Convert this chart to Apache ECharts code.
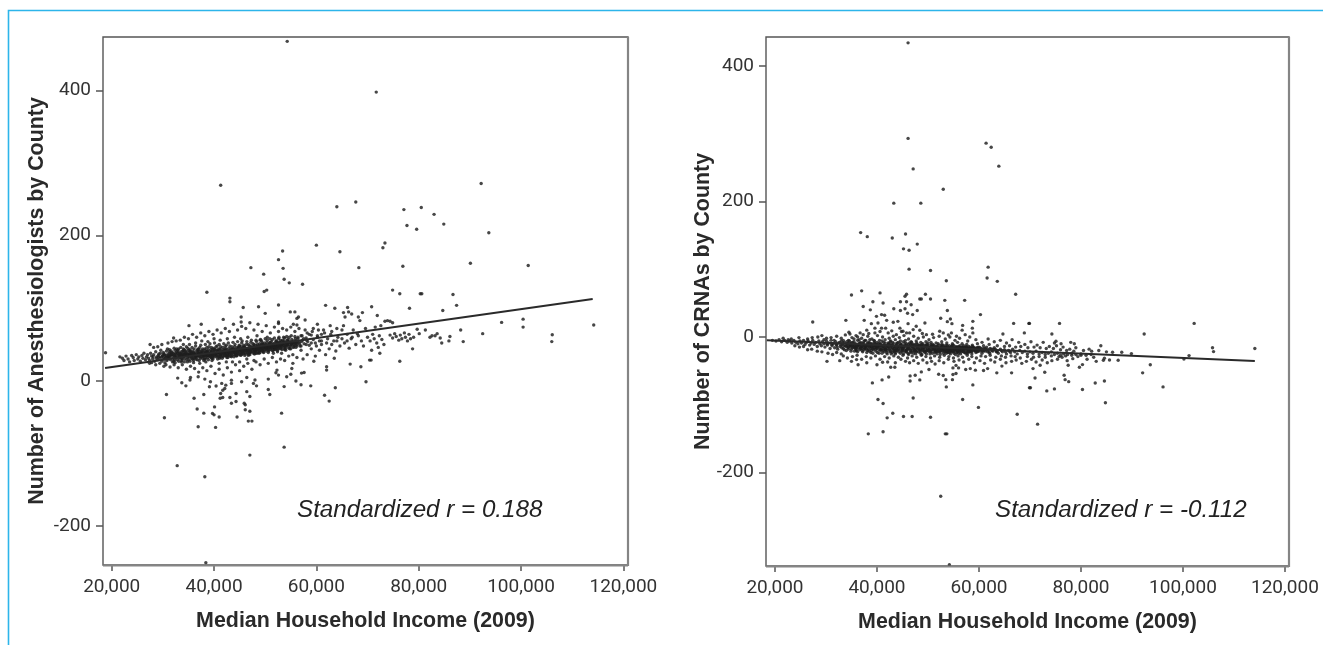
<!DOCTYPE html>
<html><head><meta charset="utf-8">
<script src="https://cdn.jsdelivr.net/npm/echarts@6/dist/echarts.min.js"></script>
<style>html,body{margin:0;padding:0;background:#fff}#c{width:1323px;height:645px}</style>
</head><body><div id="c"></div>
<script>
const xTicks=[20000,40000,60000,80000,100000,120000];
const anesYTicks=[-200,0,200,400];
const crnaYTicks=[-200,0,200,400];
const xTitle='Median Household Income (2009)';
const anesTitle='Number of Anesthesiologists by County';
const crnaTitle='Number of CRNAs by County';
const anesNote='Standardized r = 0.188';
const crnaNote='Standardized r = -0.112';
// regression end points: income (thousands), count
const anesFit=[[18.7,17.6],[114,112.8]];
const crnaFit=[[18.4,-5],[114.1,-35.4]];
// income in thousands, count
const anesOutliers=[[54.3,468],[41.3,269.5],[64,240],[67.7,246.5],[60,187],[53.4,179],[64.6,178],[52.6,167],[47.2,156],[53.5,155],[68.3,156],[49.7,147],[53.7,140],[54.7,135],[57.3,133],[38.6,122],[50.3,125],[49.8,123],[43.1,114],[71.7,398],[92.2,272],[77.1,236],[80.5,239],[83,229.5],[77.7,214],[79.6,209],[84.9,216],[93.7,204],[73.4,190],[73,183.5],[76.9,158],[90.1,162],[101.4,159],[74.9,125],[76.3,120],[80.3,120],[80.6,120],[86.7,119],[78.2,100],[84.7,97],[87.4,104],[70.8,102],[71.9,90],[96.2,80.5],[100.4,85],[100.4,74],[114.2,77],[106.1,63.5],[106,54],[92.5,65],[88.2,70],[88.7,54],[86.1,61],[85.9,55],[84.5,52],[78.8,44],[76.3,27],[72.4,38],[72.1,46],[70.8,42],[70.7,28.5],[38.4,-251],[38.2,-132.4],[32.8,-117],[47,-102.5],[53.7,-91.5],[30.3,-51],[36.9,-63.4],[40.3,-64.3],[46.7,-55.6],[47.4,-55.6],[44.5,-50],[41,-50],[39.7,-45],[40,-47],[38,-44.6],[36.7,-39],[40.1,-36],[46.1,-40],[47,-42],[53.2,-44.6],[46.1,-33],[45.9,-31],[43.4,-31],[44.3,-28.5],[43.1,-23],[44.3,-17.5],[41.2,-24],[41.7,-23],[36.1,-24],[38,-19],[30.7,-19],[47,-21.6],[46.4,-15],[50.6,-12],[50.9,-19],[53.7,-8],[61.6,-20],[62.5,-28],[63.7,-9.6],[69.7,-1.4],[58.9,-7],[57,-5.5],[56,-0.4],[57.6,11.5],[57.1,10.6],[62,19.3],[62,14.7],[66.6,23],[68.7,19.3],[70.4,28.5],[63.5,31],[59.5,27],[18.8,38.6]];
const anesScatter=[[54.2,5.5],[55,9],[55.4,24],[55.2,17],[52.3,14.7],[52.6,7.8],[52.1,11],[50.6,2.3],[48,1],[47.7,-3.6],[48.3,-7],[46.4,4.6],[45.4,-1.4],[43.4,-3.6],[43.4,.9],[41.5,-3.6],[42.3,-6],[41.7,-13],[40.4,-7.3],[39.3,-1.4],[39.1,-8.2],[42.1,-10.6],[41.3,-17.5],[38.2,2.3],[36.9,5.5],[35.3,1],[35.4,4.6],[34.5,-7],[33.7,-2.7],[32.9,3.7],[43.1,109],[45.7,101],[48.7,102],[52.6,104.4],[61.8,104],[63.6,100],[66.1,101],[54.9,95],[55.8,95],[50,93],[45.3,88],[45.3,81],[41.8,84.6],[35.1,76],[37.5,78],[52.6,81],[52.6,79],[56.2,86],[56.5,88],[55.5,78],[56.2,77],[57.8,83.7],[60.2,78],[62.7,76],[65.3,76],[65.6,88],[65.3,94],[66.3,95],[66.9,92],[68.2,88],[69,94],[68.5,83],[32.1,59],[27.5,50],[73.4,82],[73.9,83],[74.4,82],[74.9,80],[72.6,76],[71.5,74],[74.4,63],[74.9,59],[75.3,65],[75.6,61],[76.1,56],[76.4,63],[76.7,58],[77.2,66],[77.4,60],[77.8,55],[78.1,64],[78.4,58],[79,60],[79.7,71],[80.1,65],[81.3,70],[82.2,60],[82.6,62],[83.2,62],[83.6,65],[84.2,59],
[70,60],[70.5,55],[71,64],[71.3,58],[71.8,52],[72.3,62],[72.8,57],[73.2,50],[69.2,48],[69.6,72],[68.8,55],[68.2,62],[67.7,50],[67.2,70],[66.8,58],[66.4,45],[66,64],[65.5,52],[65,70],[64.6,48],[64.2,60],[63.8,41],[63.4,55],[63,68],[62.5,44],[62.2,58],[61.8,36],[61.4,70],[61,50],[60.6,42],[60.2,62],[59.8,34],[59.4,72],[59,44],[58.6,64],[58.2,36],[57.8,70],[57.4,30],[57,42],[56.6,72],[56.2,32],[55.8,68],[55.4,36],[55,74],[54.6,34],[54.2,70],[53.8,28],[53.4,72],[53,30],[52.6,68],[52.2,26],[51.8,74],[51.4,32],[51,66],[50.6,24],[50.2,76],[49.8,30],[49.4,68],[49,22],[48.6,78],[48.2,26],[47.8,70],[47.4,16],[47,80],[46.6,24],[46.2,72],[45.8,20],[45.4,75],[45,14],[44.6,70],[44.2,22],[43.8,78],[43.4,12],[43,68],[42.6,18],[42.2,72],[41.8,8],[41.4,66],[41,16],[40.6,70],[40.2,10],[39.8,64],[39.4,20],[39,68],[38.6,14],[38.2,62],[37.8,18],[37.4,66],[37,12],[36.6,60],[36.2,17],[35.8,64],[35.4,20],[35,58],[34.6,16],[34.2,60],[33.8,22],[33.4,56],[33,18],[32.6,55],[32.2,22],[31.8,54],[31.4,19],[31,52],[30.6,22],[30.2,20],[29.8,50],[29.4,24],[29,47],[28.6,22],[28.2,46],[27.8,25],[27.4,24],[49,56],[50.4,60],[48.4,62],[46.6,60],[45.2,58],[44,60],[42.6,58],[41.2,56],[40,58],[38.8,54],[37.6,55],[36.4,52],[35.2,50],[34,50],[47.8,28],[46.4,30],[45,26],[43.6,26],[42.4,26],[41,24],[39.6,28],[38.4,26],[37.2,24],[36,25],[34.8,26],[33.6,26],[32.4,25],[51.6,38],[52.4,40],[53.2,38],[54,42],[55,44],[56,46],[57,48],[58,50],[59,52],[60,48],[61,55],[62,52],[63,50],[64,55],[65,58],[66,55],[67,60],[68,65],[56.4,60],[57.2,62],[58.2,66],[59.2,68],[60.4,70],[61.6,66],[62.8,64],[64,72]];
const anesCore=[[21.6,33],[22.1,31],[22.4,28],[22.8,34],[23.2,30],[23.5,26],[23.9,35],[24.2,32],[24.4,28],[24.8,36],[25.1,30],[25.3,33],[25.6,27],[25.9,35],[26.1,31],[26.3,38],[26.6,29],[26.8,33],[27,36],[27.2,31],[27.4,28],[27.6,38],[27.8,34],[28,30],[28.2,36],[28.4,27],[28.6,40],[28.8,33],[29,29],[29.2,37],[29.4,31],[29.6,42],[29.8,27],[30,35],[30.1,39],[30.3,30],[30.5,33],[30.7,41],[30.8,28],[31,37],[31.1,32],[31.3,43],[31.5,29],[31.6,35],[31.8,39],[32,31],[32.1,27],[32.3,36],[32.4,42],[32.6,33],[32.8,29],[32.9,38],[33.1,44],[33.2,31],[33.4,35],[33.6,40],[33.7,28],[33.9,33],[34,37],[34.2,43],[34.3,30],[34.5,35],[34.6,39],[34.8,32],[34.9,45],[35.1,29],[35.2,37],[35.4,41],[35.5,33],[35.7,35],[35.8,30],[36,39],[36.1,44],[36.3,32],[36.4,36],[36.6,41],[36.7,29],[36.9,34],[37,38],[37.2,46],[37.3,31],[37.5,36],[37.6,42],[37.8,33],[37.9,39],[38.1,30],[38.2,44],[38.4,35],[38.5,37],[38.7,41],[38.8,32],[39,47],[39.1,34],[39.3,38],[39.4,43],[39.6,31],[39.7,36],[39.9,40],[40,45],[40.2,33],[40.3,37],[40.5,42],[40.6,48],[40.8,34],[40.9,39],[41.1,31],[41.2,44],[41.4,36],[41.5,41],[41.7,46],[41.8,33],[42,38],[42.1,43],[42.3,35],[42.4,49],[42.6,40],[42.7,32],[42.9,45],[43,37],[43.2,42],[43.3,34],[43.5,47],[43.6,39],[43.8,44],[43.9,36],[44.1,50],[44.2,41],[44.4,34],[44.5,46],[44.7,38],[44.8,43],[45,48],[45.1,36],[45.3,41],[45.4,52],[45.6,44],[45.7,38],[45.9,47],[46,35],[46.2,42],[46.3,50],[46.5,39],[46.6,45],[46.8,37],[46.9,48],[47.1,43],[47.2,53],[47.4,40],[47.5,46],[47.7,38],[47.8,50],[48,44],[48.1,41],[48.3,54],[48.4,47],[48.6,39],[48.7,45],[48.9,51],[49,42],[49.2,48],[49.3,55],[49.5,44],[49.6,40],[49.8,52],[49.9,46],[50.1,43],[50.2,50],[50.4,56],[50.5,45],[50.7,41],[50.8,48],[51,53],[51.1,44],[51.3,50],[51.4,57],[51.6,46],[51.7,43],[51.9,52],[52,48],[52.2,55],[52.3,45],[52.5,50],[52.6,58],[52.8,47],[52.9,53],[53.1,44],[53.2,49],[53.4,56],[53.5,51],[53.7,46],[53.8,59],[54,53],[54.1,48],[54.3,56],[54.4,50],[54.6,45],[54.7,60],[54.9,54],[55,49],[55.2,57],[55.4,52],[55.6,47],[55.8,61],[56,55],[56.2,50],[56.4,58],[56.6,53],[56.8,48],[57,62],[57.3,56],[57.6,51],[58,59],[58.3,54],[58.6,49],[59,63],[59.4,57],[59.8,52],[60.2,60],[60.6,55],[61,64],
[28.1,33],[28.7,31],[29.1,35],[29.7,33],[30.2,37],[30.6,35],[31.2,33],[31.7,36],[32.2,34],[32.5,38],[33,35],[33.3,33],[33.5,37],[33.8,35],[34.1,33],[34.4,38],[34.7,36],[35,34],[35.3,36],[35.6,38],[35.9,34],[36.2,37],[36.5,34],[36.8,39],[37.1,35],[37.4,38],[37.7,36],[38,34],[38.3,39],[38.6,37],[38.9,35],[39.2,40],[39.5,37],[39.8,34],[40.1,39],[40.4,36],[40.7,41],[41,38],[41.3,35],[41.6,40],[41.9,37],[42.2,41],[42.5,38],[42.8,35],[43.1,40],[43.4,37],[43.7,41],[44,39],[44.3,43],[44.6,40],[44.9,37],[45.2,43],[45.5,40],[45.8,42],[46.1,39],[46.4,44],[46.7,41],[47,39],[47.3,45],[47.6,42],[47.9,40],[48.2,46],[48.5,43],[48.8,48],[49.1,45],[49.4,42],[49.7,47],[50,49],[50.3,46],[50.6,43],[50.9,50],[51.2,47],[51.5,49],[51.8,45],[52.1,50],[52.4,47],[52.7,52],[53,49],[53.3,47],[53.6,53],[53.9,50],[54.2,52],[54.5,48],[54.8,53],[55.1,51],[55.5,55],[55.9,52],[56.3,54],[56.7,51],[57.1,54],[57.5,58],[58.1,56],[33.2,37],[34.3,36],[35.1,33],[35.7,38],[36.3,35],[36.9,37],[37.5,34],[38.1,37],[38.7,35],[39.3,36],[39.9,38],[40.5,38],[41.1,36],[41.7,39],[42.3,37],[42.9,39],[43.5,41],[44.1,38],[44.7,42],[45.3,39],[45.9,41],[46.5,43],[47.1,41],[47.7,44],[48.3,42],[48.9,44],[49.5,46],[50.1,45],[50.7,47],[51.3,46],[51.9,48],[52.5,49]];
const anesDense=[[30.4,25],[30.9,44],[31.4,38],[31.9,26],[32.2,45],[32.7,40],[33.1,27],[33.5,46],[33.9,41],[34.2,26],[34.6,47],[35,42],[35.3,27],[35.7,46],[36,28],[36.4,48],[36.8,43],[37.1,28],[37.4,49],[37.8,44],[38,28],[38.3,50],[38.6,46],[38.9,29],[39.2,51],[39.5,46],[39.8,30],[40.1,52],[40.4,47],[40.7,30],[41,50],[41.3,47],[41.6,31],[41.9,51],[42.2,47],[42.5,32],[42.8,52],[43.1,48],[43.4,33],[43.7,53],[44,47],[44.3,36],[44.6,54],[44.9,49],[45.2,35],[45.5,55],[45.8,49],[46.1,37],[46.4,54],[46.7,50],[47,36],[47.3,56],[47.6,51],[47.9,37],[48.2,56],[48.5,50],[48.8,38],[49.1,57],[49.4,52],[49.7,39],[50,58],[50.3,53],[50.6,39],[50.9,58],[51.2,54],[51.5,41],[51.8,59],[52.1,55],[52.4,42],[52.7,60],[53,56],[53.3,43],[53.6,60],[53.9,44],[54.2,61],[54.5,57],[54.8,44],[55.1,62],[55.5,46],[55.9,58],
[31,34],[31.5,36],[32,38],[32.5,32],[33,40],[33.4,38],[33.8,30],[34.1,39],[34.5,41],[34.9,36],[35.2,40],[35.6,31],[36,36],[36.3,38],[36.6,33],[36.9,41],[37.2,33],[37.5,39],[37.8,41],[38.1,35],[38.4,32],[38.7,39],[39,36],[39.3,33],[39.6,41],[39.9,35],[40.2,43],[40.5,35],[40.8,41],[41.1,43],[41.4,38],[41.7,34],[42,41],[42.3,44],[42.6,36],[42.9,41],[43.2,38],[43.5,35],[43.8,40],[44.1,43],[44.4,37],[44.7,45],[45,40],[45.3,44],[45.6,38],[45.9,43],[46.2,45],[46.5,41],[46.8,43],[47.1,39],[47.4,45],[47.7,47],[48,42],[48.3,45],[48.6,48],[48.9,41],[49.2,46],[49.5,49],[49.8,43],[50.1,47],[50.4,44],[50.7,50],[51,46],[51.3,48],[51.6,51],[51.9,44],[52.2,47],[52.5,53],[52.8,50],[53.1,47],[53.4,51],[53.7,49],[54,46],[54.3,50],[54.6,53],[54.9,47],[55.2,50],[55.5,53],[55.8,49],[56.1,52],
[29.2,33],[29.5,38],[29.9,34],[30.3,36],[30.7,32],[31.1,35],[31.4,32],[31.8,37],[32.1,35],[32.6,36],[33.2,34],[33.7,36],[34.2,35],[34.8,37],[35.4,35],[35.9,37],[36.4,34],[37,36],[37.6,37],[38.2,36],[38.8,38],[39.4,39],[40,37],[40.6,39],[41.2,39],[41.8,38],[42.4,40],[43,40],[43.6,42],[44.2,40],[44.8,41],[45.4,42],[46,43],[46.6,42],[47.2,44],[47.8,43],[48.4,44],[49,46],[49.6,45],[50.2,47],[50.8,46],[51.4,47],[52,46],[52.6,48],[53.2,51],[53.8,48],[54.4,51]];
const anesThick=[[30.1,31],[30.9,30],[31.6,41],[32.3,29],[32.9,42],[33.6,31],[34,44],[34.7,29],[35.3,43],[35.9,41],[36.5,30],[37,43],[37.7,31],[38.3,42],[38.9,43],[39.5,32],[40,43],[40.6,33],[41.2,33],[41.8,43],[42.4,34],[43,34],[43.6,44],[44.2,35],[44.8,46],[45.4,36],[46,46],[46.6,37],[47.2,48],[47.8,47],[48.4,38],[49,39],[49.6,50],[50.2,41],[50.8,52],[51.4,42],[52,43],[52.6,44],[53.2,54],[53.8,43],[54.4,55],[55,51],[55.6,50],[56.2,48],[31.3,40],[32.7,44],[34.1,42],[35.5,39],[36.9,44],[38.3,30],[39.7,44],[41.1,33],[42.5,43],[43.9,33],[45.3,47],[46.7,35],[48.1,49],[49.5,41],[50.9,43],[52.3,52],[53.7,55],[36.1,31],[37.3,40],[38.5,40],[39.7,33],[40.9,44],[42.1,35],[43.3,44],[44.5,35],[45.7,46],[46.9,40],[48.1,38],[49.3,50],[50.5,48],[51.7,49],[52.9,45]];
const crnaOutliers=[[46.1,434],[46.1,293],[61.4,286],[62.4,280],[63.9,252],[47.1,248],[53,218],[43.3,197.4],[48.6,197.4],[36.8,154],[38.1,148],[45.6,152],[43,146],[47.9,137],[45.2,130],[46.3,128],[46.3,100],[50.5,98],[61.8,103],[61.6,87],[63.6,82],[53.6,83],[37,68],[35,62],[40.6,65],[45.8,63],[45.5,60],[49.5,63],[67.2,63],[48.4,56],[48.7,56],[50.5,56],[53.3,54],[57.2,54],[39.2,52],[41.2,50],[37.3,45],[38.7,40],[44.6,52],[45.8,52],[46.7,47.6],[43.3,41.7],[44.6,39],[45.5,41.7],[47.9,39],[46,35],[47,33],[53.8,39],[52.5,27.5],[54.4,26.5],[53.8,22.6],[54.7,19.6],[60.3,33],[66.8,20],[69.8,20],[27.4,22],[33.9,24.5],[37.5,24.5],[39.9,30.4],[40.9,33],[41.5,32],[53.4,-143],[53.7,-143],[52.5,-235],[54.2,-336],[38.3,-143],[41.2,-140],[42,-119.4],[43.1,-112.5],[45.2,-117.4],[46.9,-117.4],[50.5,-118.4],[41.2,-98.3],[40.2,-92.4],[47.1,-90],[56.8,-92.4],[59.9,-104],[67.5,-114],[69.9,-75],[58.8,-70.8],[53.6,-73.7],[53.5,-63],[39.1,-67.8],[41,-63.4],[42.3,-59],[46.5,-57.5],[47.5,-56.5],[46.5,-65],[48.4,-63.4],[48.7,-51.6],[75.8,20],[102.2,20],[92.4,4.4],[74.3,4.4],[74.8,-9],[75.1,-6.4],[76.1,-10],[78,-8],[78.7,-10],[83.9,-13],[105.8,-16],[106,-21.6],[114.1,-17],[69.9,20],[93.6,-41],[92.1,-53],[96.1,-73.7],[84.8,-97],[84.6,-65],[82.8,-68],[80.3,-77.6],[77.6,-66],[76.9,-63],[76.7,-56.5],[74.8,-76.7],[73.3,-79.6],[70.1,-75],[71.5,-128.7],[71,-60.5],[72.9,-52],[70.6,-46.7],[72,-41.8],[77.5,-41.8],[79.7,-44.7],[80.3,-40.8],[87.3,-34.4],[84.4,-34.4],[84.6,-31.5],[82.5,-30],[80,-27],[100.2,-32.5],[101.2,-27.5],[89.9,-24.6],[88,-22.6],[86.2,-22.6],[83.5,-20],[82.1,-21]];
const crnaScatter=[[58.8,23],[56.8,17],[58.7,13],[56.7,10],[58.8,6],[57.3,3.4],[58.2,0],[68.9,6],[64.7,4.4],[41.9,24.5],[43.2,21.6],[44.1,23],[40.2,20.6],[38.9,19.6],[49.4,20.6],[47.7,15.7],[44.5,13],[46.1,19.6],[38,10],[39.6,13],[40.9,13],[41.7,13],[37.3,3.4],[39.6,6],[42.2,6],[34.5,7],[34.7,4.4],[45.1,8.3],[47.1,10.8],[48.4,9.8],[45.8,6],[43.8,3.4],[49.7,3.4],[52.3,8.3],[53,6],[54.6,6],[50.2,-48],[52.1,-55],[53,-57],[54.8,-63],[54.9,-55.5],[55.5,-54],[56,-45.7],[55.5,-42],[54.9,-45.7],[57.4,-48],[58.3,-46.7],[59.3,-49],[60.9,-49.6],[61.7,-46.7],[63.5,-53],[64.5,-43],[66.4,-53],[30.2,-36],[32.7,-35],[42.7,-44.7],[43.5,-44.7],[35,-36],[36,-33.4],[36.3,-41],[38,-38],[40,-41],[41.1,-37.4],
[36.2,0],[37,-2],[38.2,1],[39,-3],[40.1,2],[41.1,0],[42.4,-2],[43.2,1],[44.4,-1],[45.3,2],[46.2,-3],[47.2,1],[48.1,-2],[49.1,0],[50.2,-4],[51.1,-1],[52.2,1],[53.4,-3],[54.3,0],[55.3,-5],[56.2,-2],[57.8,-6],[59.4,-4],[60.6,-8],[61.8,-3],[63,-7],[64.2,-5],[65.4,-9],[66.5,-4],[67.8,-8],[69,-11],[70.2,-7],[71.4,-12],[72.6,-8],[73.8,-14],[75.2,-13],[76.5,-15],[77.8,-18],[79,-16],[80.5,-20],[81.6,-18],[85,-22],
[42.1,-37],[43.6,-38],[44.7,-33],[45.6,-36],[46.4,-38],[47.2,-35],[48.1,-39],[49,-34],[49.8,-38],[50.7,-36],[51.4,-40],[52.2,-35],[53.1,-38],[54,-33],[55.1,-36],[56.1,-34],[57,-37],[58,-33],[59.1,-38],[60.2,-35],[61.1,-39],[62.3,-34],[63.1,-37],[64.2,-33],[65.3,-38],[66.4,-36],[67.3,-34],[68.4,-39],[69.3,-36],[70.3,-33],[71.2,-37],[72.4,-34],[73.4,-38],[74.3,-35],[75.4,-33],[76.3,-30],[77.3,-35],[78.4,-32],[81.2,-33],[83,-36],[85.6,-34],[33.4,-28],[34.2,-31],[35.2,-29],[36.1,-27],[37,-33],[37.9,-29],[38.8,-31],[39.7,-28],[40.6,-33],[41.5,-29],[42.4,-31],[43.3,-28],[44.2,-30],[45.1,-27],[46,-31],[46.9,-28],[47.8,-30],[48.7,-27],[49.6,-29],[50.5,-31],[51.3,-28],[52.3,-30],[53.2,-27],[54.1,-29],[55,-31],[55.9,-28],[56.8,-30],[57.7,-27],[58.6,-29],[59.5,-31],[60.4,-28],[61.3,-29],[62.2,-27],[63.3,-30],[64.4,-28],[65.2,-30],[66.3,-28],[67.1,-29],[68.1,-31],[69.5,-29],[70.7,-30],[71.8,-29],[73,-30],[74.2,-28],[75.7,-29],[77,-28],[78.2,-27],[79.4,-29],[30.4,-24],[31.3,-26],[32.1,-23],[33,-25],[29.2,-22],[28.3,-21],[27.2,-18],[26.4,-19],[25.6,-14],[24.8,-15],[23.9,-13],
[28.4,0],[29.2,2],[30.1,-2],[31,-1],[32.1,1],[33,-2],[33.8,3],[35.1,-1],[35.9,2],[36.7,6],[38.4,5],[40.6,8],[42.9,9],[44.8,8],[46.4,6],[48.9,5],[50.9,4],[54,3],[55.6,1],[24.7,-1],[26.4,-3],[27.3,-1],[23.2,-3],[21.6,-2],[22.6,-4],[29.6,-4],[31.6,-5],[33.4,-5],[34.4,-5],[35.5,-3],[36.5,-4],[37.6,-5],[38.6,-4],[39.5,-6],[40.5,-5],[41.6,-4],[42.7,-6],[43.6,-4],[44.6,-6],[45.6,-5],[46.7,-7],[47.7,-6],[48.6,-8],[49.6,-7],[50.6,-8],[51.6,-9],[52.7,-7],[53.7,-9],[54.8,-10],[55.8,-8],[56.7,-10],[57.6,-11],[58.7,-12],[59.7,-10],[60.9,-13],[62,-11],[63.6,-13],[65,-14],[66,-13],[67.2,-15],[68.2,-14],[69.6,-16],[70.8,-15],[72,-16],[73.2,-17],[74.6,-17],[76,-19],[77.2,-20],[78.6,-21]];
const crnaCore=[[19.5,-5],[20.2,-6],[20.8,-4],[21.3,-7],[21.9,-5],[22.4,-8],[22.9,-6],[23.3,-9],[23.7,-5],[24.1,-8],[24.5,-10],[24.9,-6],[25.2,-9],[25.6,-5],[25.9,-11],[26.2,-8],[26.5,-6],[26.8,-12],[27.1,-9],[27.4,-5],[27.7,-11],[28,-8],[28.3,-14],[28.6,-6],[28.8,-10],[29.1,-13],[29.3,-7],[29.6,-10],[29.8,-15],[30.1,-6],[30.3,-12],[30.5,-9],[30.8,-17],[31,-5],[31.2,-13],[31.4,-10],[31.7,-16],[31.9,-7],[32.1,-12],[32.3,-18],[32.5,-9],[32.8,-14],[33,-6],[33.2,-11],[33.4,-17],[33.6,-8],[33.8,-13],[34,-20],[34.2,-10],[34.4,-15],[34.6,-6],[34.8,-12],[35,-18],[35.2,-8],[35.4,-14],[35.6,-21],[35.8,-10],[36,-16],[36.2,-5],[36.4,-12],[36.6,-19],[36.8,-8],[37,-14],[37.2,-22],[37.4,-10],[37.6,-17],[37.8,-5],[38,-12],[38.2,-20],[38.4,-8],[38.6,-15],[38.8,-23],[39,-10],[39.2,-17],[39.4,-5],[39.6,-13],[39.8,-21],[40,-8],[40.2,-15],[40.4,-24],[40.6,-11],[40.8,-18],[41,-6],[41.2,-14],[41.4,-22],[41.6,-9],[41.8,-16],[42,-25],[42.2,-11],[42.4,-19],[42.6,-7],[42.8,-14],[43,-23],[43.2,-10],[43.4,-17],[43.6,-25],[43.8,-12],[44,-20],[44.2,-8],[44.4,-15],[44.6,-24],[44.8,-11],[45,-18],[45.2,-7],[45.4,-14],[45.6,-22],[45.8,-10],[46,-17],[46.2,-26],[46.4,-13],[46.6,-20],[46.8,-8],[47,-15],[47.2,-24],[47.4,-11],[47.6,-18],[47.8,-9],[48,-14],[48.2,-22],[48.4,-12],[48.6,-19],[48.8,-26],[49,-10],[49.2,-16],[49.4,-23],[49.6,-12],[49.8,-20],[50,-9],[50.2,-15],[50.4,-25],[50.6,-13],[50.8,-19],[51,-11],[51.2,-17],[51.4,-23],[51.6,-14],[51.8,-20],[52,-10],[52.2,-16],[52.4,-26],[52.6,-13],[52.8,-18],[53,-12],[53.2,-21],[53.4,-15],[53.6,-24],[53.8,-13],[54,-19],[54.2,-16],[54.4,-25],[54.6,-14],[54.8,-21],[55,-12],[55.2,-18],[55.4,-26],[55.6,-15],[55.8,-22],[56,-14],[56.2,-19],[56.4,-25],[56.6,-16],[56.8,-21],[57,-13],[57.2,-18],[57.4,-24],[57.6,-16],[57.8,-20],[58,-14],[58.2,-22],[58.4,-17],[58.6,-25],[58.8,-15],[59,-20],[59.2,-18],[59.4,-23],[59.6,-16],[59.8,-21],[60,-15],[60.3,-19],[60.6,-24],[60.9,-17],[61.2,-21],[61.5,-15],[61.8,-19],[62.1,-24],[62.4,-18],[62.7,-21],[63,-16],[63.4,-20],[63.8,-24],[64.2,-18],[64.6,-22],[65,-19],[65.4,-25],[65.8,-20],[66.2,-23],[66.6,-18],[67,-22],[67.5,-25],[68,-20],[68.5,-23],[69,-21],[69.5,-25],[70,-22],[70.6,-24],[71.2,-21],[71.8,-25],[72.4,-23],[73,-26],[73.6,-24],[74.2,-22],[74.8,-26],[75.4,-24],[76,-27],[76.6,-25],[77.4,-26],[78.2,-24],[79,-26],[80,-25],[81,-27],[82,-26],
[30.2,-10],[31.1,-11],[32,-11],[32.9,-12],[33.5,-13],[34.1,-12],[34.7,-13],[35.3,-11],[35.9,-14],[36.3,-12],[36.9,-15],[37.3,-12],[37.9,-14],[38.3,-11],[38.9,-15],[39.3,-13],[39.9,-16],[40.3,-12],[40.9,-14],[41.3,-17],[41.9,-13],[42.3,-15],[42.9,-18],[43.3,-14],[43.9,-16],[44.3,-13],[44.9,-17],[45.3,-15],[45.9,-14],[46.3,-17],[46.9,-15],[47.3,-18],[47.9,-16],[48.3,-14],[48.9,-17],[49.3,-15],[49.9,-18],[50.3,-16],[50.9,-15],[51.3,-18],[51.9,-16],[52.3,-19],[52.9,-17],[53.3,-15],[53.9,-18],[54.3,-20],[54.9,-17],[55.3,-19],[55.9,-17],[56.3,-20],[56.9,-18],[57.3,-16],[57.9,-19],[58.3,-21],[58.9,-18],[59.3,-20],[59.9,-19],[60.4,-17],[60.8,-21],[61.4,-19],[62,-22],[62.6,-20],[63.2,-18],[63.6,-22],[64.4,-20],[65.2,-22],[66,-21],[34.6,-9],[35.7,-16],[36.7,-10],[37.7,-16],[38.7,-12],[39.7,-18],[40.7,-10],[41.7,-19],[42.7,-11],[43.7,-20],[44.7,-12],[45.7,-20],[46.7,-11],[47.7,-21],[48.7,-13],[49.7,-21],[50.7,-14],[51.7,-22],[52.7,-15],[53.7,-21],[54.7,-15],[55.7,-23],[56.7,-17],[57.7,-22],[58.7,-17],[59.7,-22]];
const crnaDense=[[32.2,-15],[32.7,-8],[33.1,-16],[33.6,-19],[34.1,-7],[34.4,-18],[34.9,-21],[35.2,-16],[35.5,-7],[35.9,-19],[36.2,-22],[36.5,-9],[36.8,-17],[37.1,-20],[37.4,-7],[37.7,-13],[38,-23],[38.3,-18],[38.6,-9],[38.9,-20],[39.2,-24],[39.5,-9],[39.8,-15],[40.1,-23],[40.4,-9],[40.7,-20],[41,-24],[41.3,-8],[41.6,-19],[41.9,-23],[42.2,-9],[42.5,-22],[42.8,-25],[43.1,-8],[43.4,-20],[43.7,-23],[44,-9],[44.3,-22],[44.6,-10],[44.9,-21],[45.2,-25],[45.5,-9],[45.8,-19],[46.1,-24],[46.4,-9],[46.7,-23],[47,-11],[47.3,-21],[47.6,-25],[47.9,-11],[48.2,-19],[48.5,-24],[48.8,-11],[49.1,-21],[49.4,-13],[49.7,-25],[50,-12],[50.3,-22],[50.6,-11],[50.9,-24],[51.2,-13],[51.5,-21],[51.8,-25],[52.1,-12],[52.4,-22],[52.7,-11],[53,-24],[53.3,-19],[53.6,-12],[53.9,-23],[54.2,-13],[54.5,-22],[54.8,-12],[55.1,-24],[55.4,-14],[55.7,-20],[56,-24],[56.3,-13],[56.6,-22],[56.9,-15],[57.2,-23],[57.5,-14],[57.8,-24],[58.1,-17],[58.4,-21],[58.7,-14],
[34,-14],[34.3,-16],[34.8,-14],[35.1,-13],[35.5,-15],[35.8,-17],[36.1,-13],[36.4,-16],[36.7,-14],[37,-17],[37.3,-15],[37.6,-13],[37.9,-18],[38.2,-15],[38.5,-13],[38.8,-17],[39.1,-14],[39.4,-16],[39.7,-12],[40,-17],[40.3,-14],[40.6,-16],[40.9,-19],[41.2,-12],[41.5,-16],[41.8,-18],[42.1,-14],[42.4,-17],[42.7,-13],[43,-16],[43.3,-19],[43.6,-15],[43.9,-18],[44.2,-14],[44.5,-19],[44.8,-15],[45.1,-17],[45.4,-19],[45.7,-13],[46,-19],[46.3,-15],[46.6,-18],[46.9,-13],[47.2,-16],[47.5,-20],[47.8,-14],[48.1,-17],[48.4,-19],[48.7,-15],[49,-18],[49.3,-20],[49.6,-16],[49.9,-14],[50.2,-18],[50.5,-20],[50.8,-16],[51.1,-19],[51.4,-15],[51.7,-18],[52,-21],[52.3,-17],[52.6,-15],[52.9,-20],[53.2,-17],[53.5,-19],[53.8,-16],[54.1,-21],[54.4,-18],[54.7,-20],[55,-16],[55.3,-21],[55.6,-18],[55.9,-20],[56.2,-16],[56.5,-19],[56.8,-17],[57.1,-20],[57.4,-18],[57.7,-17],[58,-21],[58.3,-18],[58.6,-20],[59,-17],[59.4,-21],[59.8,-18],[60.2,-21]];
const crnaThick=[[33.3,-9],[34.5,-11],[35,-9],[35.7,-12],[36,-20],[36.6,-11],[37.1,-10],[37.5,-19],[38.1,-9],[38.5,-21],[38.9,-11],[39.3,-19],[39.6,-10],[40,-11],[40.4,-19],[40.8,-12],[41.2,-20],[41.5,-12],[41.9,-20],[42.3,-10],[42.7,-21],[43,-12],[43.4,-22],[43.8,-10],[44.2,-18],[44.6,-13],[45,-21],[45.4,-12],[45.8,-22],[46.2,-11],[46.6,-22],[47,-20],[47.4,-13],[47.8,-22],[48.2,-12],[48.6,-21],[49,-13],[49.4,-21],[49.8,-11],[50.2,-20],[50.6,-22],[51,-13],[51.4,-21],[51.8,-14],[52.2,-22],[52.6,-20],[53,-14],[53.4,-22],[53.8,-20],[54.2,-23],[54.6,-17],[55,-22],[55.4,-17],[55.8,-15],[56.2,-22],[56.6,-15],[57,-22],[57.4,-16],[57.8,-22],[58.2,-15],[58.6,-22],[59,-15],[59.4,-17],[59.8,-16],[60.2,-16],[60.7,-20],[61.2,-17],[61.7,-22],[62.2,-17],[62.8,-18],[63.4,-22]];

const fontTick='Roboto,"Open Sans",sans-serif', fontBold='"Liberation Sans",Arial,sans-serif';
const grids=[{left:103,top:37,width:525,height:528},{left:766,top:37,width:523,height:529}];
function money(v){return Number(v*1000).toLocaleString('en-US');}
function xAxis(i,min,max){return {type:'value',gridIndex:i,min:min,max:max,name:xTitle,nameLocation:'middle',nameGap:46,nameMoveOverlap:false,
 nameTextStyle:{fontFamily:fontBold,fontWeight:'bold',fontSize:21.4,color:'#2a2a2a'},
 axisLine:{onZero:false,show:false},splitLine:{show:false},
 axisTick:{show:true,length:6,lineStyle:{color:'#555',width:1.5},customValues:xTicks.map(v=>v/1000)},
 axisLabel:{margin:13,fontFamily:fontTick,fontSize:19,color:'#333',customValues:xTicks.map(v=>v/1000),formatter:money,hideOverlap:false}};}
function yAxis(i,min,max,ticks,title,gap){return {type:'value',gridIndex:i,min:min,max:max,name:title,nameLocation:'middle',nameGap:gap,nameMoveOverlap:false,
 nameTextStyle:{fontFamily:fontBold,fontWeight:'bold',fontSize:21.4,color:'#2a2a2a'},
 axisLine:{onZero:false,show:false},splitLine:{show:false},
 axisTick:{show:true,length:7,lineStyle:{color:'#555',width:1.5},customValues:ticks},
 axisLabel:{margin:12,fontFamily:fontTick,fontSize:19,color:'#333',customValues:ticks}};}
function dots(i,d){return {type:'scatter',xAxisIndex:i,yAxisIndex:i,data:d,symbol:'circle',symbolSize:3.4,silent:true,
 itemStyle:{color:'#1f1f1f',opacity:.82},animation:false};}
function fit(i,d){return {type:'line',xAxisIndex:i,yAxisIndex:i,data:d,showSymbol:false,silent:true,z:3,
 lineStyle:{color:'#2a2a2a',width:2},animation:false};}
function note(x,y,t){return {type:'text',left:x,top:y,style:{text:t,fontFamily:fontBold,fontStyle:'italic',fontSize:24.2,fill:'#222'}};}
function edge(x1,y1,x2,y2){return {type:'line',shape:{x1,y1,x2,y2},style:{stroke:'#858585',lineWidth:2.2},z:10};}
const chart=echarts.init(document.getElementById('c'),null,{renderer:'canvas'});
chart.setOption({animation:false,backgroundColor:'#fff',
 grid:grids.map(g=>Object.assign({show:true,outerBoundsMode:'none',borderColor:'#555',borderWidth:1.4,backgroundColor:'#fff'},g)),
 xAxis:[xAxis(0,18.3,120.9),xAxis(1,18.24,120.8)],
 yAxis:[yAxis(0,-254,474,anesYTicks,anesTitle,55),yAxis(1,-338,442.6,crnaYTicks,crnaTitle,52)],
 series:[dots(0,anesOutliers),dots(0,anesScatter),dots(0,anesCore),dots(0,anesDense),dots(0,anesThick),fit(0,anesFit),
         dots(1,crnaOutliers),dots(1,crnaScatter),dots(1,crnaCore),dots(1,crnaDense),dots(1,crnaThick),fit(1,crnaFit)],
 graphic:[{type:'polyline',shape:{points:[[8.5,645],[8.5,10.5],[1323,10.5]]},style:{stroke:'#2db5ea',lineWidth:1.6,fill:null}},
  edge(628,37,628,566),edge(103,565.5,628,565.5),edge(1289,37,1289,567),edge(766,566.5,1289,566.5),
  note(297,498,anesNote),note(995,498,crnaNote)]});
</script></body></html>
